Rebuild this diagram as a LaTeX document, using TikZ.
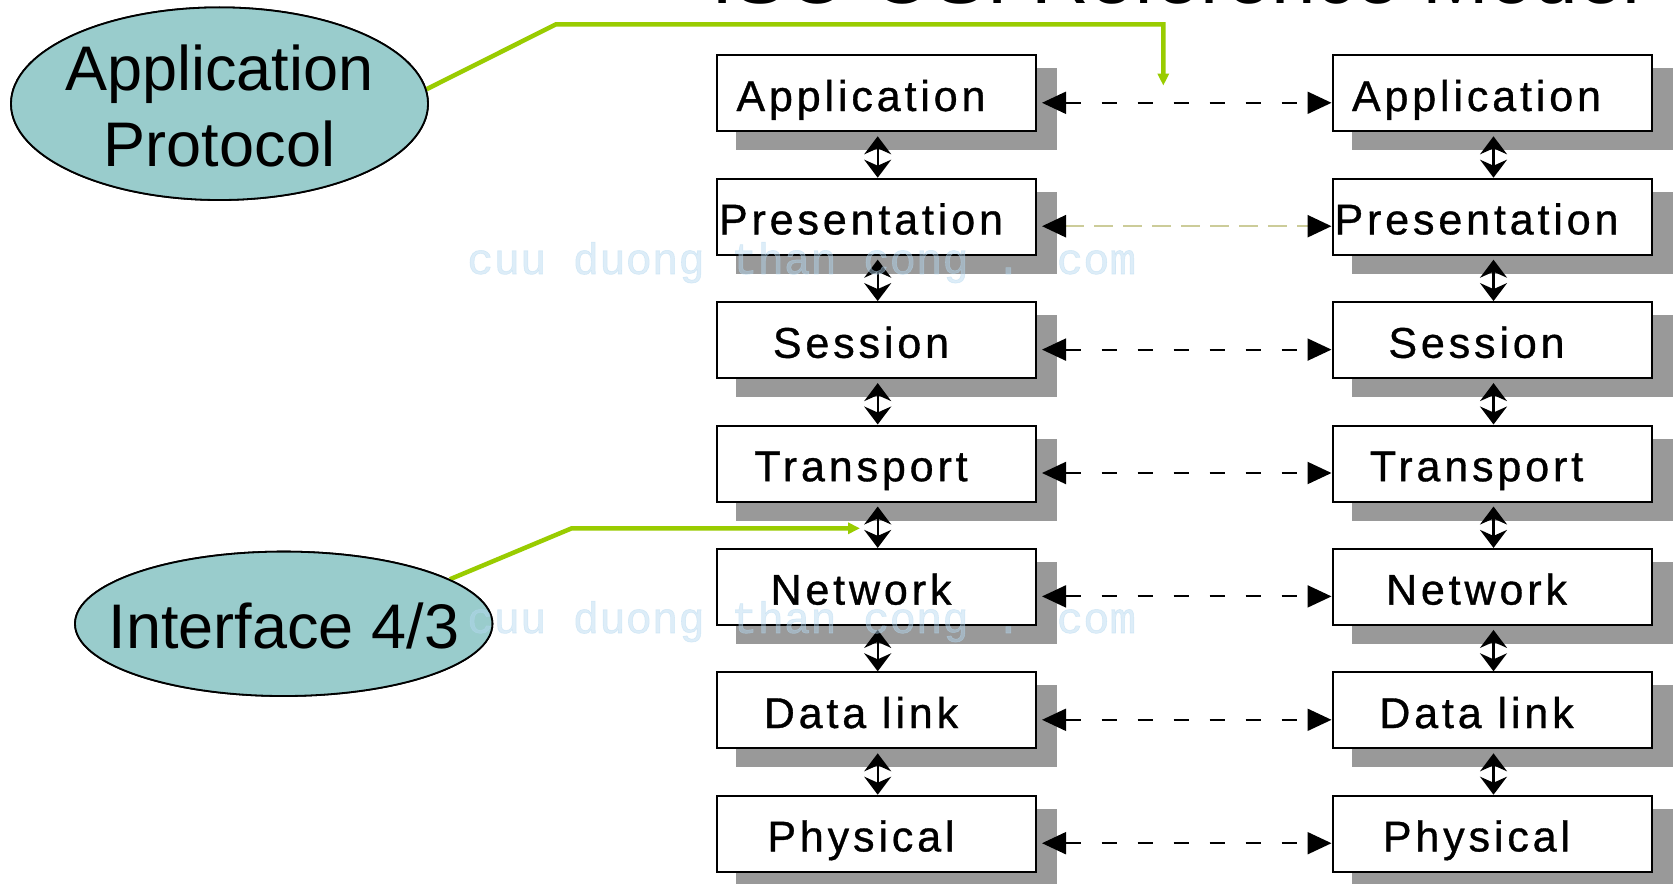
\documentclass[tikz,border=0pt]{standalone}
\usepackage{fontspec}
\setmainfont{Liberation Sans}
\newfontfamily\boxfont[LetterSpace=9.0,FakeBold=0.8]{Liberation Sans}
\newfontfamily\wmfont[FakeBold=1.2]{Liberation Mono}
\usetikzlibrary{arrows.meta,shapes.geometric}
\definecolor{tealfill}{HTML}{99CCCC}
\definecolor{grn}{HTML}{99CC00}
\definecolor{khaki}{HTML}{CCCC99}
\definecolor{wmcol}{RGB}{180,216,240}
\definecolor{shade}{gray}{0.6}
\begin{document}
\begin{tikzpicture}[x=1pt,y=-1pt,
  layerbox/.style={draw=black, line width=2pt, fill=white, minimum width=319pt,
    minimum height=76pt, inner sep=0pt, anchor=north west},
  shadowfill/.style={fill=shade, draw=none},
  ltext/.style={font=\boxfont\fontsize{43}{43}\selectfont, anchor=base, inner sep=0pt},
  peer/.style={dash pattern=on 15pt off 21pt, line width=2pt,
    arrows={Triangle[length=24pt,width=22pt]-Triangle[length=24pt,width=22pt]}},
  peerlight/.style={draw=khaki, dash pattern=on 19pt off 10pt, line width=2.5pt,
    arrows={Triangle[length=24pt,width=22pt,color=black]-Triangle[length=24pt,width=22pt,color=black]}},
  vert/.style={line width=2.2pt, arrows={Stealth[length=18pt,width=27pt,inset=6pt]-Stealth[length=18pt,width=27pt,inset=6pt]}},
  bubble/.style={ellipse, draw=black, line width=1.8pt, fill=tealfill, inner sep=0pt},
  bigtext/.style={font=\fontsize{63}{63}\selectfont, anchor=base, inner sep=0pt},
  greenline/.style={draw=grn, line width=4.5pt, arrows={-Triangle[length=12pt,width=11pt]}},
  wmark/.style={font=\wmfont\fontsize{44}{44}\selectfont, text=wmcol, opacity=0.45, anchor=base west, inner sep=0pt}
]
\useasboundingbox (0,0) rectangle (1677,883);
\fill[white] (0,0) rectangle (1677,883);

% cut-off title
\node[font=\fontsize{80}{80}\selectfont, anchor=base west, inner sep=0pt] (title) at (711,3.5) {ISO OSI Reference Model};

% layers
\foreach \t [count=\i from 0] in {Application,Presentation,Session,Transport,Network,Data link,Physical}{
  \pgfmathsetmacro\T{54.3+123.4*\i}
  \node[layerbox] (L\i) at (716,\T) {};
  \node[layerbox] (R\i) at (1331.5,\T) {};
  \fill[shadowfill] ([shift={(20,14)}]L\i.north west) rectangle ([shift={(20,18)}]L\i.south east);
  \fill[shadowfill] ([shift={(20,14)}]R\i.north west) rectangle ([shift={(20,18)}]R\i.south east);
  \node[layerbox] at (716,\T) {};
  \node[layerbox] at (1331.5,\T) {};
  \node[ltext] (LT\i) at ([shift={(-15.5,56.7)}]L\i.north) {\t};
  \node[ltext] (RT\i) at ([shift={(-15.5,56.7)}]R\i.north) {\t};
}

% peer-to-peer dashed arrows
\foreach \i in {0,2,3,4,5,6}{
  \draw[peer] ([shift={(5,48.5)}]L\i.north east) -- ([shift={(0,48.5)}]R\i.north west);
}
\draw[peerlight] ([shift={(5,48.5)}]L1.north east) -- ([shift={(0,48.5)}]R1.north west);

% vertical interface arrows
\foreach \i/\j in {0/1,1/2,2/3,3/4,4/5,5/6}{
  \draw[vert] ([shift={(1.2,4)}]L\i.south) -- ([shift={(1.2,0)}]L\j.north);
  \draw[vert] ([shift={(1.5,4)}]R\i.south) -- ([shift={(1.5,0)}]R\j.north);
}

% callout bubbles
\coordinate (g1) at (556,24.3);
\coordinate (g2) at (1163.3,24.3);
\coordinate (g3) at (1163.3,85.6);
\coordinate (g4) at (571.7,528.3);
\coordinate (g5) at (860,528.3);
\node[bubble, minimum width=417pt, minimum height=192.6pt] (ap) at (219.5,103.7) {};
\node[bubble, minimum width=417.4pt, minimum height=144.4pt] (if) at (283.7,623.8) {};
\draw[greenline] (ap.4) -- (g1) -- (g2) -- (g3);
\draw[greenline] (if.15) -- (g4) -- (g5);
\node[bubble, minimum width=417pt, minimum height=192.6pt] at (219.5,103.7) {};
\node[bubble, minimum width=417.4pt, minimum height=144.4pt] at (283.7,623.8) {};
\node[bigtext] (apt1) at (219.5,90.7) {Application};
\node[bigtext] (apt2) at (219.5,166.7) {Protocol};
\node[bigtext] (ift) at (284,648.3) {Interface 4/3};

% watermark
\node[wmark] (wm1) at (467,274) {cuu duong than cong . com};
\node[wmark] (wm2) at (467,633) {cuu duong than cong . com};
\end{tikzpicture}
\end{document}
